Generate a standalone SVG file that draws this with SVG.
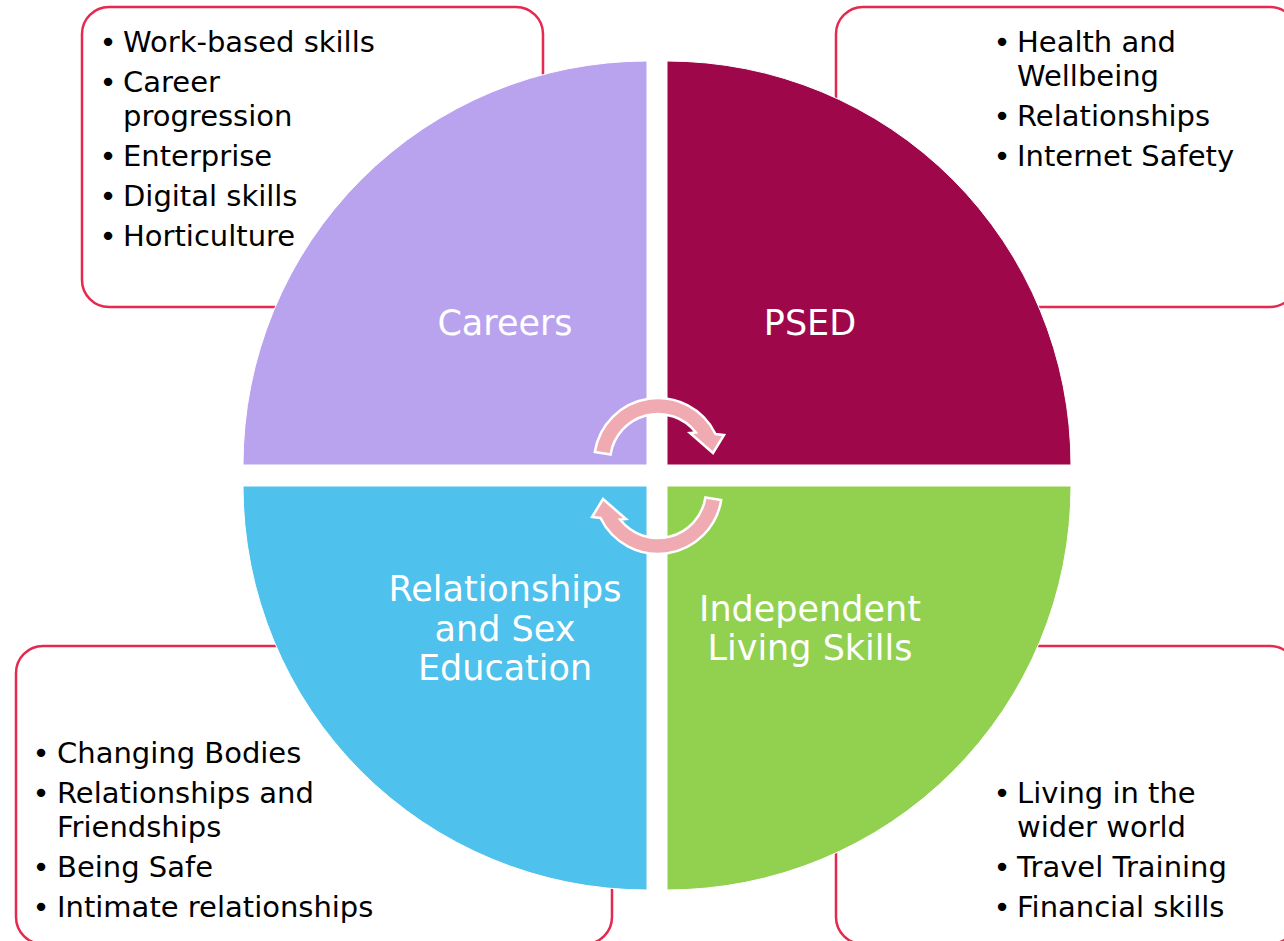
<svg xmlns="http://www.w3.org/2000/svg" width="1284" height="941" viewBox="0 0 1284 941">
  <style>
    .box { fill: #ffffff; stroke: #E5294F; stroke-width: 2.5; }
    .item { font-family: "DejaVu Sans", "Liberation Sans", sans-serif; font-size: 29px; fill: #000000; }
    .bullet { font-family: "DejaVu Sans", "Liberation Sans", sans-serif; font-size: 29px; fill: #000000; text-anchor: middle; }
    .label { font-family: "DejaVu Sans", "Liberation Sans", sans-serif; font-size: 35px; fill: #ffffff; text-anchor: middle; }
    .quad { stroke: #ffffff; stroke-width: 1; }
    .cycle { fill: #F0AAB1; stroke: #ffffff; stroke-width: 2.5; stroke-linejoin: miter; }
  </style>
  <defs>
    <path id="cycle-arrow" d="M 594.8 452 A 64 64 0 0 1 715.5 434 L 724 435 L 713 453 L 690 433 L 695.9 432.5 A 48 48 0 0 0 610.6 454.5 Z"/>
  </defs>
  <rect width="1284" height="941" fill="#ffffff"/>

  <!-- Topic boxes (behind the wheel) -->
  <g id="box-careers">
    <rect class="box" x="82" y="7" width="461" height="300" rx="27"/>
    <text class="bullet" x="108" y="52">•</text>
    <text class="item" x="123" y="52">Work-based skills</text>
    <text class="bullet" x="108" y="92">•</text>
    <text class="item" x="123" y="92">Career</text>
    <text class="item" x="123" y="126">progression</text>
    <text class="bullet" x="108" y="166">•</text>
    <text class="item" x="123" y="166">Enterprise</text>
    <text class="bullet" x="108" y="206">•</text>
    <text class="item" x="123" y="206">Digital skills</text>
    <text class="bullet" x="108" y="246">•</text>
    <text class="item" x="123" y="246">Horticulture</text>
  </g>

  <g id="box-psed">
    <rect class="box" x="836" y="7" width="461" height="300" rx="27"/>
    <text class="bullet" x="1002" y="52">•</text>
    <text class="item" x="1017" y="52">Health and</text>
    <text class="item" x="1017" y="86">Wellbeing</text>
    <text class="bullet" x="1002" y="126">•</text>
    <text class="item" x="1017" y="126">Relationships</text>
    <text class="bullet" x="1002" y="166">•</text>
    <text class="item" x="1017" y="166">Internet Safety</text>
  </g>

  <g id="box-rse">
    <rect class="box" x="16" y="646" width="596" height="298" rx="27"/>
    <text class="bullet" x="41" y="763">•</text>
    <text class="item" x="57" y="763">Changing Bodies</text>
    <text class="bullet" x="41" y="803">•</text>
    <text class="item" x="57" y="803">Relationships and</text>
    <text class="item" x="57" y="837">Friendships</text>
    <text class="bullet" x="41" y="877">•</text>
    <text class="item" x="57" y="877">Being Safe</text>
    <text class="bullet" x="41" y="917">•</text>
    <text class="item" x="57" y="917">Intimate relationships</text>
  </g>

  <g id="box-independent">
    <rect class="box" x="836" y="646" width="461" height="298" rx="27"/>
    <text class="bullet" x="1002" y="803">•</text>
    <text class="item" x="1017" y="803">Living in the</text>
    <text class="item" x="1017" y="837">wider world</text>
    <text class="bullet" x="1002" y="877">•</text>
    <text class="item" x="1017" y="877">Travel Training</text>
    <text class="bullet" x="1002" y="917">•</text>
    <text class="item" x="1017" y="917">Financial skills</text>
  </g>

  <!-- Wheel quadrants -->
  <g id="quad-careers">
    <path class="quad" fill="#B9A3EE" d="M 647 465 L 243 465 A 404 404 0 0 1 647 61 Z"/>
    <text class="label" x="505" y="335">Careers</text>
  </g>
  <g id="quad-psed">
    <path class="quad" fill="#9E084A" d="M 667 465 L 667 61 A 404 404 0 0 1 1071 465 Z"/>
    <text class="label" x="810" y="335">PSED</text>
  </g>
  <g id="quad-rse">
    <path class="quad" fill="#4EC1EC" d="M 647 486 L 647 890 A 404 404 0 0 1 243 486 Z"/>
    <text class="label" x="505" y="601">Relationships</text>
    <text class="label" x="505" y="641">and Sex</text>
    <text class="label" x="505" y="680">Education</text>
  </g>
  <g id="quad-independent">
    <path class="quad" fill="#92D050" d="M 667 486 L 1071 486 A 404 404 0 0 1 667 890 Z"/>
    <text class="label" x="810" y="621">Independent</text>
    <text class="label" x="810" y="660">Living Skills</text>
  </g>

  <!-- Circular arrows in the centre -->
  <g id="connectors">
    <use href="#cycle-arrow" class="cycle"/>
    <use href="#cycle-arrow" class="cycle" transform="rotate(180 658 476)"/>
  </g>
</svg>
